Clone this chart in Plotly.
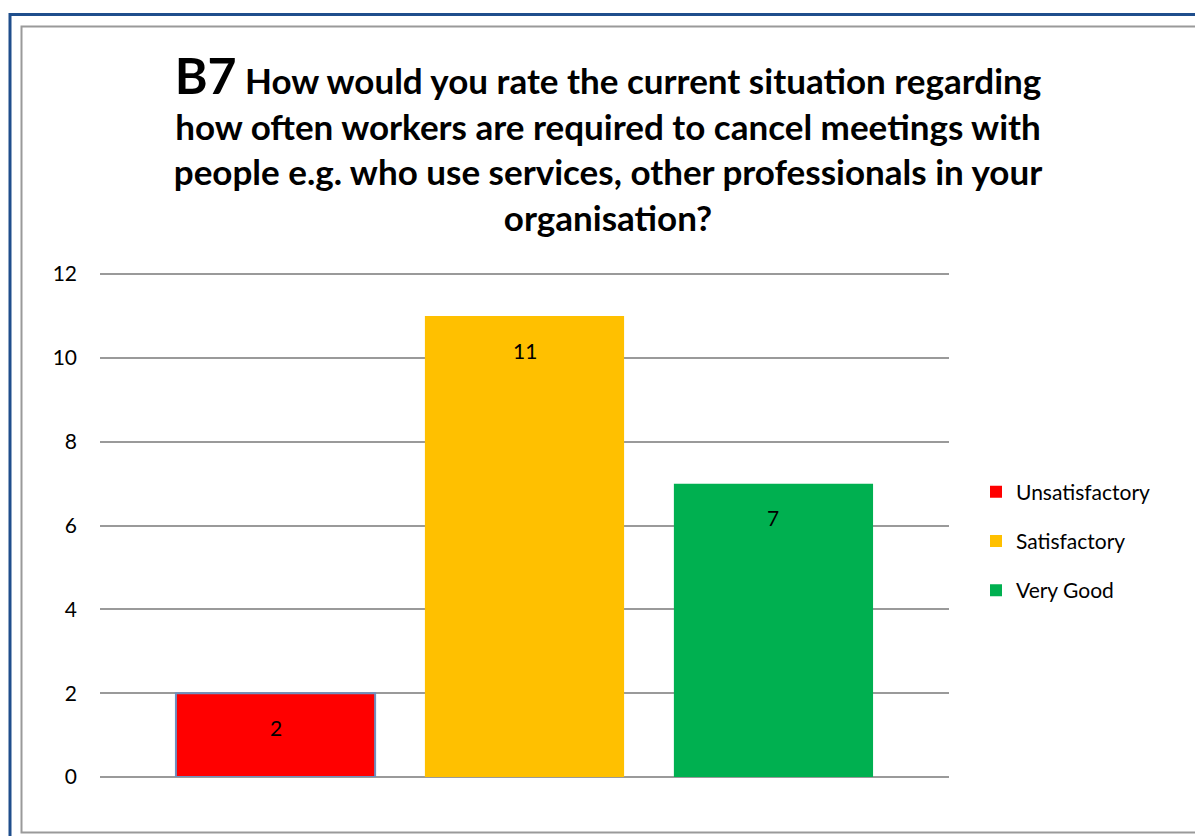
import plotly.graph_objects as go

# Survey responses for question B7
categories = ["Unsatisfactory", "Satisfactory", "Very Good"]
counts = [2, 11, 7]
colors = ["#FF0000", "#FFC000", "#00B050"]
outlined = [True, False, False]
y_ticks = [0, 2, 4, 6, 8, 10, 12]

W, H = 1195, 836
ML, MR, MT, MB = 100, 246, 272, 59
PW, PH = W - ML - MR, H - MT - MB


def px_x(x):
    return (x - ML) / PW


def px_y(y):
    return (H - MB - y) / PH


FONT = "Lato"

fig = go.Figure()
for i, (cat, val, col, has_edge) in enumerate(zip(categories, counts, colors, outlined)):
    fig.add_trace(go.Bar(
        x=[i], y=[val], name=cat, width=0.8,
        marker=dict(color=col, line=dict(width=0)),
        legendgroup=cat,
    ))
    if has_edge:
        # thin bluish edge drawn on top, kept out of the legend
        fig.add_trace(go.Bar(
            x=[i], y=[val], width=0.8, showlegend=False, hoverinfo="skip",
            marker=dict(color="rgba(0,0,0,0)", line=dict(color="#6F8FBF", width=2)),
        ))
    fig.add_annotation(
        x=i, y=val, text=str(val), showarrow=False, yshift=-34,
        font=dict(family=FONT, size=21, color="#000000"),
    )

title_text = (
    "<span style='font-size:50px'>B7</span> How would you rate the current situation regarding<br>"
    "how often workers are required to cancel meetings with<br>"
    "people e.g. who use services, other professionals in your<br>"
    "organisation?"
)

fig.update_layout(
    width=W, height=H,
    margin=dict(l=ML, r=MR, t=MT, b=MB),
    paper_bgcolor="white", plot_bgcolor="white",
    barmode="overlay",
    title=dict(
        text=title_text, x=608 / W, xanchor="center", xref="container",
        y=1 - 94 / H, yanchor="top", yref="container",
        font=dict(family=FONT, size=35, color="#000000", weight="bold"),
    ),
    showlegend=True,
    legend=dict(
        x=px_x(976), y=px_y(541), xanchor="left", yanchor="middle",
        font=dict(family=FONT, size=21, color="#000000"),
        tracegroupgap=19, bgcolor="rgba(0,0,0,0)",
    ),
    xaxis=dict(range=[-0.705, 2.705], showticklabels=False, showgrid=False,
               zeroline=False, showline=False, ticks=""),
    yaxis=dict(range=[0, 12.05], tickvals=y_ticks, showgrid=True, gridcolor="#9A9A9A",
               gridwidth=2, zeroline=True, zerolinecolor="#9A9A9A", zerolinewidth=2,
               showline=False, ticks="", ticklabelstandoff=22,
               tickfont=dict(family=FONT, size=21, color="#000000")),
    shapes=[
        # outer blue frame
        dict(type="path", xref="paper", yref="paper",
             path=f"M {px_x(10)},{px_y(H + 5)} L {px_x(10)},{px_y(14.5)} L {px_x(W + 5)},{px_y(14.5)}",
             line=dict(color="#1F4E8C", width=3)),
        # inner grey chart-area frame
        dict(type="path", xref="paper", yref="paper",
             path=(f"M {px_x(W + 5)},{px_y(832.5)} L {px_x(21.5)},{px_y(832.5)} "
                   f"L {px_x(21.5)},{px_y(26.5)} L {px_x(W + 5)},{px_y(26.5)}"),
             line=dict(color="#9A9A9A", width=2)),
    ],
)

fig.write_html("out.html")
